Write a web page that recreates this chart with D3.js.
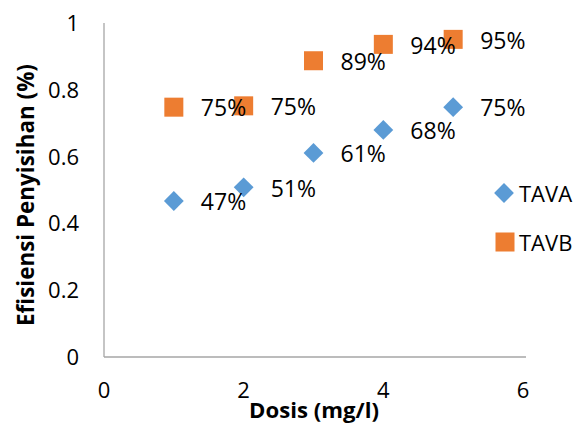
<!DOCTYPE html>
<html><head><meta charset="utf-8">
<script src="https://cdn.jsdelivr.net/npm/d3@7"></script>
<style>body{margin:0;background:#fff}svg{display:block}</style>
</head><body>
<svg id="c" width="578" height="424"></svg>
<script>
const doses = [1, 2, 3, 4, 5];
const tavaValues = [0.467, 0.508, 0.611, 0.68, 0.748];
const tavbValues = [0.748, 0.752, 0.887, 0.936, 0.951];
const xTicks = [0, 2, 4, 6];
const yTicks = [0, 0.2, 0.4, 0.6, 0.8, 1];
const seriesNames = ["TAVA", "TAVB"];

const svg = d3.select("#c");
const font = "'Open Sans', sans-serif";
const x = d3.scaleLinear().domain([0, 6]).range([104, 523]);
const y = d3.scaleLinear().domain([0, 1]).range([357, 23]);
const blue = "#5B9BD5", orange = "#ED7D31";

// axes lines
svg.append("line").attr("x1", x(0)).attr("x2", x(0)).attr("y1", y(1)).attr("y2", y(0)).attr("stroke", "#a6a6a6").attr("stroke-width", 1.3);
svg.append("line").attr("x1", x(0)).attr("x2", x(6) + 3).attr("y1", y(0)).attr("y2", y(0)).attr("stroke", "#a6a6a6").attr("stroke-width", 1.3);

// y tick labels
svg.selectAll(".yt").data(yTicks).enter().append("text")
  .attr("x", 79).attr("y", d => y(d)).attr("dy", "0.36em")
  .attr("text-anchor", "end").attr("font-family", font).attr("font-size", 22).attr("fill", "#000")
  .text(d => d3.format("")(d));
// x tick labels
svg.selectAll(".xt").data(xTicks).enter().append("text")
  .attr("x", d => x(d)).attr("y", 390).attr("dy", "0.36em")
  .attr("text-anchor", "middle").attr("font-family", font).attr("font-size", 22).attr("fill", "#000")
  .text(d => d);

// axis titles (font size fitted to the reference text extent)
function fit(sel, target) {
  const w = sel.node().getComputedTextLength();
  sel.attr("font-size", 20 * target / w);
}
const xt = svg.append("text").attr("x", 314).attr("y", 410).attr("dy", "0.36em").attr("text-anchor", "middle")
  .attr("font-family", font).attr("font-weight", "bold").attr("font-size", 20).text("Dosis (mg/l)");
fit(xt, 130);
const yt = svg.append("text").attr("transform", `translate(26,195) rotate(-90)`).attr("dy", "0.36em").attr("text-anchor", "middle")
  .attr("font-family", font).attr("font-weight", "bold").attr("font-size", 20).text("Efisiensi Penyisihan (%)");
fit(yt, 262);

const pct = d3.format(".0%");
const tava = doses.map((d, i) => ({d, v: tavaValues[i]}));
const tavb = doses.map((d, i) => ({d, v: tavbValues[i]}));

// TAVA diamonds
svg.selectAll(".a").data(tava).enter().append("rect")
  .attr("x", -7).attr("y", -7).attr("width", 14).attr("height", 14)
  .attr("transform", p => `translate(${x(p.d)},${y(p.v)}) rotate(45)`).attr("fill", blue);
// TAVB squares
svg.selectAll(".b").data(tavb).enter().append("rect")
  .attr("x", p => x(p.d) - 9.5).attr("y", p => y(p.v) - 9.5).attr("width", 19).attr("height", 19).attr("fill", orange);

// data labels
const lab = (data) => svg.selectAll(null).data(data).enter().append("text")
  .attr("x", p => x(p.d) + 27).attr("y", p => y(p.v) + 1).attr("dy", "0.36em")
  .attr("font-family", font).attr("font-size", 23).attr("fill", "#000")
  .text(p => pct(p.v));
lab(tava); lab(tavb);

// legend
svg.append("rect").attr("x", -7).attr("y", -7).attr("width", 14).attr("height", 14)
  .attr("transform", "translate(504,193) rotate(45)").attr("fill", blue);
svg.append("rect").attr("x", 495.5).attr("y", 232.5).attr("width", 19).attr("height", 19).attr("fill", orange);
svg.selectAll(".lg").data(seriesNames).enter().append("text")
  .attr("x", 519).attr("y", (d, i) => 194 + i * 49).attr("dy", "0.36em")
  .attr("font-family", font).attr("font-size", 22).attr("fill", "#000").text(d => d);
</script>
</body></html>
